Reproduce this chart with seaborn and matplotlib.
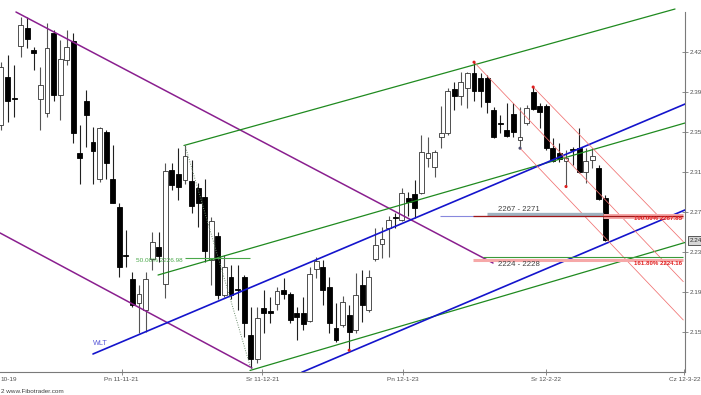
import numpy as np
import pandas as pd
import matplotlib
matplotlib.use("Agg")
import matplotlib.pyplot as plt
import seaborn as sns

# ---------------- data (bar index = trading day, price) ----------------
opens = [2.349, 2.396, 2.375, 2.426, 2.443, 2.422, 2.374, 2.361, 2.438, 2.378,
         2.412, 2.430, 2.322, 2.373, 2.333, 2.297, 2.343, 2.297, 2.270, 2.224,
         2.201, 2.178, 2.171, 2.220, 2.232, 2.196, 2.306, 2.302, 2.296, 2.295,
         2.289, 2.280, 2.219, 2.242, 2.185, 2.203, 2.191, 2.203, 2.147, 2.124,
         2.173, 2.170, 2.177, 2.190, 2.186, 2.168, 2.168, 2.160, 2.210, 2.212,
         2.193, 2.153, 2.156, 2.166, 2.152, 2.195, 2.171, 2.220, 2.235, 2.250,
         2.261, 2.258, 2.279, 2.283, 2.284, 2.318, 2.309, 2.338, 2.342, 2.384,
         2.377, 2.385, 2.400, 2.395, 2.395, 2.364, 2.351, 2.345, 2.360, 2.335,
         2.351, 2.381, 2.368, 2.368, 2.327, 2.322, 2.315, 2.326, 2.327, 2.304,
         2.316, 2.308, 2.279]
highs = [2.410, 2.417, 2.407, 2.454, 2.454, 2.425, 2.405, 2.448, 2.441, 2.431,
         2.441, 2.438, 2.349, 2.383, 2.347, 2.347, 2.345, 2.330, 2.274, 2.248,
         2.208, 2.195, 2.208, 2.246, 2.246, 2.313, 2.313, 2.327, 2.330, 2.316,
         2.293, 2.297, 2.261, 2.246, 2.224, 2.214, 2.214, 2.205, 2.174, 2.174,
         2.190, 2.183, 2.193, 2.202, 2.188, 2.174, 2.183, 2.212, 2.222, 2.219,
         2.203, 2.178, 2.184, 2.176, 2.207, 2.209, 2.209, 2.250, 2.251, 2.262,
         2.264, 2.289, 2.285, 2.296, 2.340, 2.338, 2.325, 2.368, 2.385, 2.391,
         2.401, 2.401, 2.410, 2.400, 2.398, 2.367, 2.359, 2.371, 2.371, 2.367,
         2.369, 2.386, 2.371, 2.370, 2.337, 2.332, 2.325, 2.328, 2.346, 2.327,
         2.327, 2.311, 2.282]
lows = [2.345, 2.352, 2.357, 2.415, 2.424, 2.402, 2.345, 2.357, 2.373, 2.354,
        2.407, 2.332, 2.292, 2.328, 2.292, 2.294, 2.297, 2.274, 2.203, 2.212,
        2.174, 2.149, 2.150, 2.209, 2.217, 2.182, 2.287, 2.277, 2.292, 2.264,
        2.251, 2.217, 2.195, 2.181, 2.183, 2.181, 2.171, 2.145, 2.115, 2.120,
        2.149, 2.158, 2.171, 2.181, 2.158, 2.142, 2.152, 2.159, 2.202, 2.176,
        2.149, 2.140, 2.154, 2.132, 2.149, 2.159, 2.169, 2.218, 2.221, 2.222,
        2.250, 2.257, 2.262, 2.260, 2.283, 2.309, 2.299, 2.327, 2.340, 2.364,
        2.369, 2.366, 2.373, 2.367, 2.361, 2.337, 2.342, 2.338, 2.338, 2.327,
        2.349, 2.364, 2.346, 2.325, 2.314, 2.314, 2.290, 2.311, 2.303, 2.293,
        2.308, 2.277, 2.237]
closes = [2.405, 2.373, 2.374, 2.446, 2.432, 2.419, 2.388, 2.424, 2.378, 2.413,
          2.425, 2.342, 2.318, 2.359, 2.324, 2.346, 2.313, 2.274, 2.212, 2.223,
          2.176, 2.186, 2.201, 2.236, 2.223, 2.305, 2.291, 2.290, 2.319, 2.271,
          2.274, 2.228, 2.257, 2.185, 2.212, 2.185, 2.190, 2.158, 2.124, 2.163,
          2.168, 2.168, 2.189, 2.186, 2.161, 2.164, 2.157, 2.206, 2.218, 2.190,
          2.158, 2.142, 2.179, 2.150, 2.185, 2.176, 2.203, 2.234, 2.239, 2.258,
          2.260, 2.284, 2.275, 2.269, 2.323, 2.322, 2.323, 2.342, 2.382, 2.377,
          2.391, 2.400, 2.382, 2.382, 2.372, 2.338, 2.350, 2.339, 2.343, 2.338,
          2.366, 2.365, 2.362, 2.327, 2.315, 2.317, 2.318, 2.325, 2.304, 2.315,
          2.319, 2.278, 2.238]

# drawn trend lines (x0, y0, x1, y1) in bar index / price
purple_lines = [(2.28, 2.4584, 74.89, 2.2162), (-0.15, 2.2452, 38.20, 2.1149)]
green_lines = [(27.85, 2.3296, 102.59, 2.4613), (23.90, 2.2046, 104.11, 2.3513),
               (37.90, 2.1125, 104.11, 2.2360)]
blue_lines = [(14.00, 2.1284, 104.11, 2.3696), (45.77, 2.1107, 104.11, 2.2674)]
red_lines = [(72, 2.410, 103.85, 2.1982), (81, 2.386, 103.85, 2.2368),
             (79, 2.327, 103.85, 2.1612)]
red_high_dots = [72, 81]
red_low_dots = [53, 86]
dark_low_dots = [79]

fib50_level = 2.2215
fib50_span = (28.0, 37.9)
zone_hi = (2.262, 2.2633, 2.2616)
zone_lo = (2.2217, 2.2191)

xtick_pos = [1.15, 18.37, 39.77, 61.23, 82.95, 104.0]
xtick_labels = ["10-19", "Pn 11-11-21", "Sr 11-12-21", "Pn 12-1-23", "Sr 12-2-22", "Cz 12-3-22"]
ytick_pos = [2.1499, 2.1885, 2.2271, 2.2657, 2.3043, 2.3429, 2.3815, 2.4201]
ytick_labels = ["2.15", "2.19", "2.23", "2.27", "2.31", "2.35", "2.39", "2.42"]

# ---------------- style ----------------
sns.set_theme(style="white")
plt.rcParams['font.family'] = ['Liberation Sans', 'DejaVu Sans']

fig = plt.figure(figsize=(7.01, 3.95), dpi=100)
ax = fig.add_axes([0, 23 / 395, 685 / 701, 364 / 395])

df = pd.DataFrame({"o": opens, "h": highs, "l": lows, "c": closes})
df["i"] = np.arange(len(df))
up = df["c"] >= df["o"]

# wicks
ax.vlines(df["i"][up], df["l"][up], df["h"][up], color="#555555", linewidth=0.8, zorder=2)
ax.vlines(df["i"][~up], df["l"][~up], df["h"][~up], color="#202020", linewidth=0.8, zorder=2)
# bodies
bottom = np.minimum(df["o"], df["c"])
height = np.maximum(np.abs(df["c"] - df["o"]), 0.0009)
ax.bar(df["i"][up], height[up], bottom=bottom[up], width=0.74, color="white",
       edgecolor="#333333", linewidth=0.6, zorder=3)
ax.bar(df["i"][~up], height[~up], bottom=bottom[~up], width=0.74, color="black",
       edgecolor="black", linewidth=0.6, zorder=3)


def seg(line, **kw):
    x0, y0, x1, y1 = line
    sns.lineplot(x=[x0, x1], y=[y0, y1], ax=ax, estimator=None, sort=False,
                 legend=False, **kw)


for ln in purple_lines:
    seg(ln, color="#8a1f8f", linewidth=1.1, zorder=4)
for ln in green_lines:
    seg(ln, color="#1f8a1f", linewidth=0.9, zorder=4)
for ln in blue_lines:
    seg(ln, color="#1414cc", linewidth=1.2, zorder=4)
for ln in red_lines:
    seg(ln, color="#f07070", linewidth=0.55, zorder=4)

# dotted pivot line
seg((28, highs[28], 38, lows[38]), color="#6f8f6f", linewidth=0.7,
    linestyle=(0, (1, 1.5)), zorder=4)

# fib 50% level
ax.hlines(fib50_level, *fib50_span, color="#4aa84a", linewidth=0.8, zorder=4)
ax.text(fib50_span[0] - 0.3, fib50_level - 0.003, "50.00% 2226.98", color="#4aa84a",
        fontsize=4.6, ha="right", va="center", zorder=6)

# upper zone 2267-2271
ax.hlines(zone_hi[0], 66.8, 91.9, color="#8888dd", linewidth=0.8, zorder=4)
ax.hlines(zone_hi[1], 74.0, 91.6, color="#9fb2c0", linewidth=2.4, zorder=4)
ax.hlines(zone_hi[0], 91.6, 103.85, color="#f6a8a8", linewidth=3.6, zorder=4)
ax.hlines(zone_hi[2], 71.8, 103.85, color="#a01818", linewidth=0.9, zorder=5)
ax.text(78.8, 2.2675, "2267 - 2271", color="#404040", fontsize=5.6,
        ha="center", va="center", zorder=6)
ax.text(96.4, 2.2592, "100.00% 2267.85", color="#e02020", fontsize=4.4,
        fontweight="bold", ha="left", va="center", zorder=6)

# lower zone 2224-2228
ax.hlines(zone_lo[0], 73.4, 103.85, color="#3a9a3a", linewidth=0.8, zorder=4)
ax.hlines(zone_lo[1], 71.8, 103.85, color="#f6a8a8", linewidth=2.2, zorder=4)
ax.text(78.8, 2.2148, "2224 - 2228", color="#404040", fontsize=5.6,
        ha="center", va="center", zorder=6)
ax.text(96.4, 2.2162, "161.80% 2224.16", color="#e02020", fontsize=4.4,
        fontweight="bold", ha="left", va="center", zorder=6)

# pivot dots
sns.scatterplot(x=red_high_dots, y=[highs[i] for i in red_high_dots], ax=ax,
                color="#e02020", s=5, edgecolor="none", legend=False, zorder=7)
sns.scatterplot(x=red_low_dots, y=[lows[i] for i in red_low_dots], ax=ax,
                color="#e02020", s=5, edgecolor="none", legend=False, zorder=7)
sns.scatterplot(x=dark_low_dots, y=[lows[i] for i in dark_low_dots], ax=ax,
                color="#505070", s=5, edgecolor="none", legend=False, zorder=7)

ax.text(14.0, 2.1385, "WLT", color="#5a5ad8", fontsize=5.2, ha="left", va="center")

# axes
ax.set_xlim(-0.152, 104.11)
ax.set_ylim(2.11102, 2.46228)
for s in ["left", "top"]:
    ax.spines[s].set_visible(False)
for s in ["right", "bottom"]:
    ax.spines[s].set_color("#7a7a7a")
    ax.spines[s].set_linewidth(0.8)
ax.spines["right"].set_bounds(2.11102, 2.4584)
ax.yaxis.tick_right()
ax.set_yticks(ytick_pos)
ax.set_yticklabels(ytick_labels)
ax.set_xticks(xtick_pos)
ax.set_xticklabels(xtick_labels)
ax.tick_params(axis="both", direction="inout", length=4, width=0.6, color="#7a7a7a",
               labelsize=4.6, labelcolor="#505050", pad=1.5)
ax.tick_params(axis="y", right=True, left=False)
ax.tick_params(axis="x", bottom=True)
ax.xaxis.get_major_ticks()[0].tick1line.set_visible(False)
ax.set_xlabel("")
ax.set_ylabel("")
ax.grid(False)

# last price marker
ax.annotate("2.24", xy=(1.0, closes[-1]), xycoords=("axes fraction", "data"),
            xytext=(3.2, 0), textcoords="offset points", fontsize=4.6, color="#303030",
            ha="left", va="center", annotation_clip=False,
            bbox=dict(boxstyle="square,pad=0.25", facecolor="#d6d6d6",
                      edgecolor="#404040", linewidth=0.6))

fig.text(0.001, 3.5 / 395, "2 www.Fibotrader.com", fontsize=4.6, color="#404040",
         ha="left", va="center")

fig.savefig("out.png", dpi=100)
